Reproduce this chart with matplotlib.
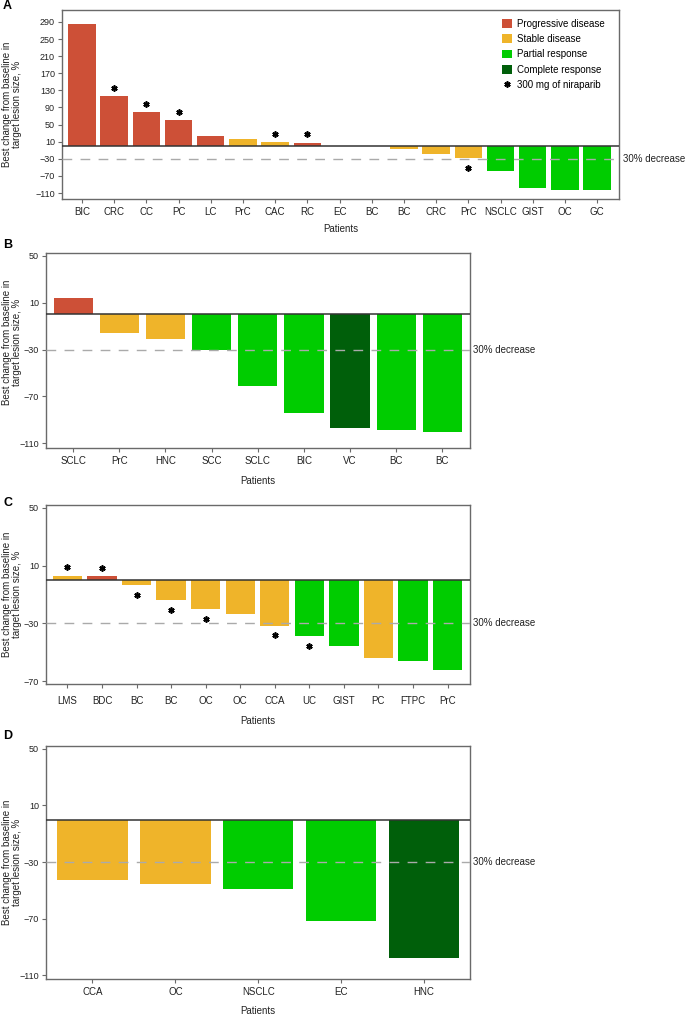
import matplotlib
matplotlib.use("Agg")
import matplotlib.pyplot as plt
import matplotlib.transforms as mtransforms
from matplotlib.patches import Patch
from matplotlib.lines import Line2D

plt.rcParams['font.family'] = ['Liberation Sans', 'DejaVu Sans']

# Panel A
a_labels = ["BIC", "CRC", "CC", "PC", "LC", "PrC", "CAC", "RC", "EC", "BC", "BC",
            "CRC", "PrC", "NSCLC", "GIST", "OC", "GC"]
a_values = [286, 116, 79, 61, 24, 16, 9, 8, 1, -1, -6, -18, -29, -58, -98, -102, -102]
a_resp = ["PD", "PD", "PD", "PD", "PD", "SD", "SD", "PD", "PD", "PD", "SD",
          "SD", "SD", "PR", "PR", "PR", "PR"]
a_star = [0, 1, 1, 1, 0, 0, 1, 1, 0, 0, 0, 0, 1, 0, 0, 0, 0]

# Panel B
b_labels = ["SCLC", "PrC", "HNC", "SCC", "SCLC", "BIC", "VC", "BC", "BC"]
b_values = [14, -16, -21, -30, -61, -84, -97, -99, -100]
b_resp = ["PD", "SD", "SD", "PR", "PR", "PR", "CR", "PR", "PR"]
b_star = [0] * 9

# Panel C
c_labels = ["LMS", "BDC", "BC", "BC", "OC", "OC", "CCA", "UC", "GIST", "PC", "FTPC", "PrC"]
c_values = [3, 2.5, -3.3, -14, -20, -23.5, -31.5, -39, -46, -54, -56, -62]
c_resp = ["SD", "PD", "SD", "SD", "SD", "SD", "SD", "PR", "PR", "SD", "PR", "PR"]
c_star = [1, 1, 1, 1, 1, 0, 1, 1, 0, 0, 0, 0]

# Panel D
d_labels = ["CCA", "OC", "NSCLC", "EC", "HNC"]
d_values = [-42.5, -45.5, -49, -71.5, -98]
d_resp = ["SD", "SD", "PR", "PR", "CR"]
d_star = [0] * 5

colors = {"PD": "#CD5037", "SD": "#EFB42A", "PR": "#00CC00", "CR": "#005F0A"}
legend_names = {"PD": "Progressive disease", "SD": "Stable disease",
                "PR": "Partial response", "CR": "Complete response"}

W, H = 688, 1017
fig = plt.figure(figsize=(W / 100, H / 100), dpi=100)


def box(l, r, t, b):
    return [l / W, 1 - b / H, (r - l) / W, (b - t) / H]


spine_c = "#6a6a6a"
narrow = ['Liberation Sans Narrow', 'Liberation Sans', 'DejaVu Sans']
regular = ['Liberation Sans', 'DejaVu Sans']


def panel(rect, labels, values, resp, star, ylim, yticks, xlim, fam, xpad, ylab_x, xlab_pad):
    ax = fig.add_axes(rect)
    x = list(range(len(values)))
    ax.bar(x, values, width=0.85, color=[colors[r] for r in resp], zorder=2)
    ax.axhline(0, color="#333333", lw=1.1, zorder=3)
    ax.axhline(-30, color="#aaaaaa", lw=1, dashes=(7, 6), zorder=4)
    ax.set_xlim(*xlim)
    ax.set_ylim(*ylim)
    ax.set_yticks(yticks)
    ax.set_xticks(x)
    ax.set_xticklabels(labels, fontsize=7, family=fam, color="#222222")
    for t in ax.get_yticklabels():
        t.set_fontsize(6.5)
        t.set_family(narrow)
        t.set_color("#222222")
    for s in ax.spines.values():
        s.set_color(spine_c)
        s.set_linewidth(1)
    ax.tick_params(axis='both', direction='out', length=3, width=0.8, color=spine_c)
    ax.tick_params(axis='x', pad=xpad)
    ax.tick_params(axis='y', pad=2)
    up = mtransforms.offset_copy(ax.transData, fig=fig, x=0, y=6, units='points')
    dn = mtransforms.offset_copy(ax.transData, fig=fig, x=0, y=-7, units='points')
    for i, (v, s) in enumerate(zip(values, star)):
        if s:
            ax.plot(i, v, marker=(6, 2, 0), ms=4.5, mew=1.2, color="black",
                    transform=up if v > 0 else dn, zorder=5, clip_on=False)
    ax.set_ylabel("Best change from baseline in\ntarget lesion size, %",
                  fontsize=7, color="#222222", linespacing=1.0)
    ax.yaxis.set_label_coords(ylab_x, 0.5)
    ax.set_xlabel("Patients", fontsize=7, family=fam, color="#222222", labelpad=xlab_pad)
    tr = mtransforms.blended_transform_factory(ax.transAxes, ax.transData)
    ax.text(1.008, -30, "30% decrease", transform=tr, ha="left", va="center",
            fontsize=7, family=fam, color="#222222")
    return ax


axA = panel(box(62, 619, 10, 199), a_labels, a_values, a_resp, a_star,
            (-124, 318), list(range(-110, 291, 40)), (-0.62, 16.68), regular, 3,
            (22 - 62) / 557, 5)
axB = panel(box(46, 470, 253, 448), b_labels, b_values, b_resp, b_star,
            (-114, 52.5), [-110, -70, -30, 10, 50], (-0.59, 8.6), narrow, 3,
            (22 - 46) / 424, 7)
axC = panel(box(46, 470, 505, 684), c_labels, c_values, c_resp, c_star,
            (-72, 52), [-70, -30, 10, 50], (-0.62, 11.65), narrow, 6,
            (22 - 46) / 424, 7)
axD = panel(box(46, 470, 746, 979), d_labels, d_values, d_resp, d_star,
            (-112.6, 52), [-110, -70, -30, 10, 50], (-0.56, 4.555), narrow, 3,
            (22 - 46) / 424, 6)
axB.yaxis.set_label_coords((22 - 46) / 424, 0.54)

handles = [Patch(facecolor=colors[k], label=legend_names[k]) for k in ["PD", "SD", "PR", "CR"]]
handles.append(Line2D([], [], marker=(6, 2, 0), ms=4.5, mew=1.2, color="black",
                      lw=0, label="300 mg of niraparib"))
axA.legend(handles=handles, loc="upper left", bbox_to_anchor=(0.79, 0.955),
           frameon=False, fontsize=7, handlelength=1.0, handleheight=1.0,
           handletextpad=0.5, labelspacing=0.55, borderpad=0, borderaxespad=0)

for letter, yc in [("A", 6), ("B", 245), ("C", 503), ("D", 736)]:
    fig.text(3 / W, 1 - yc / H, letter, fontsize=9, weight="bold", va="center", ha="left")

fig.savefig("out.png", dpi=100)
